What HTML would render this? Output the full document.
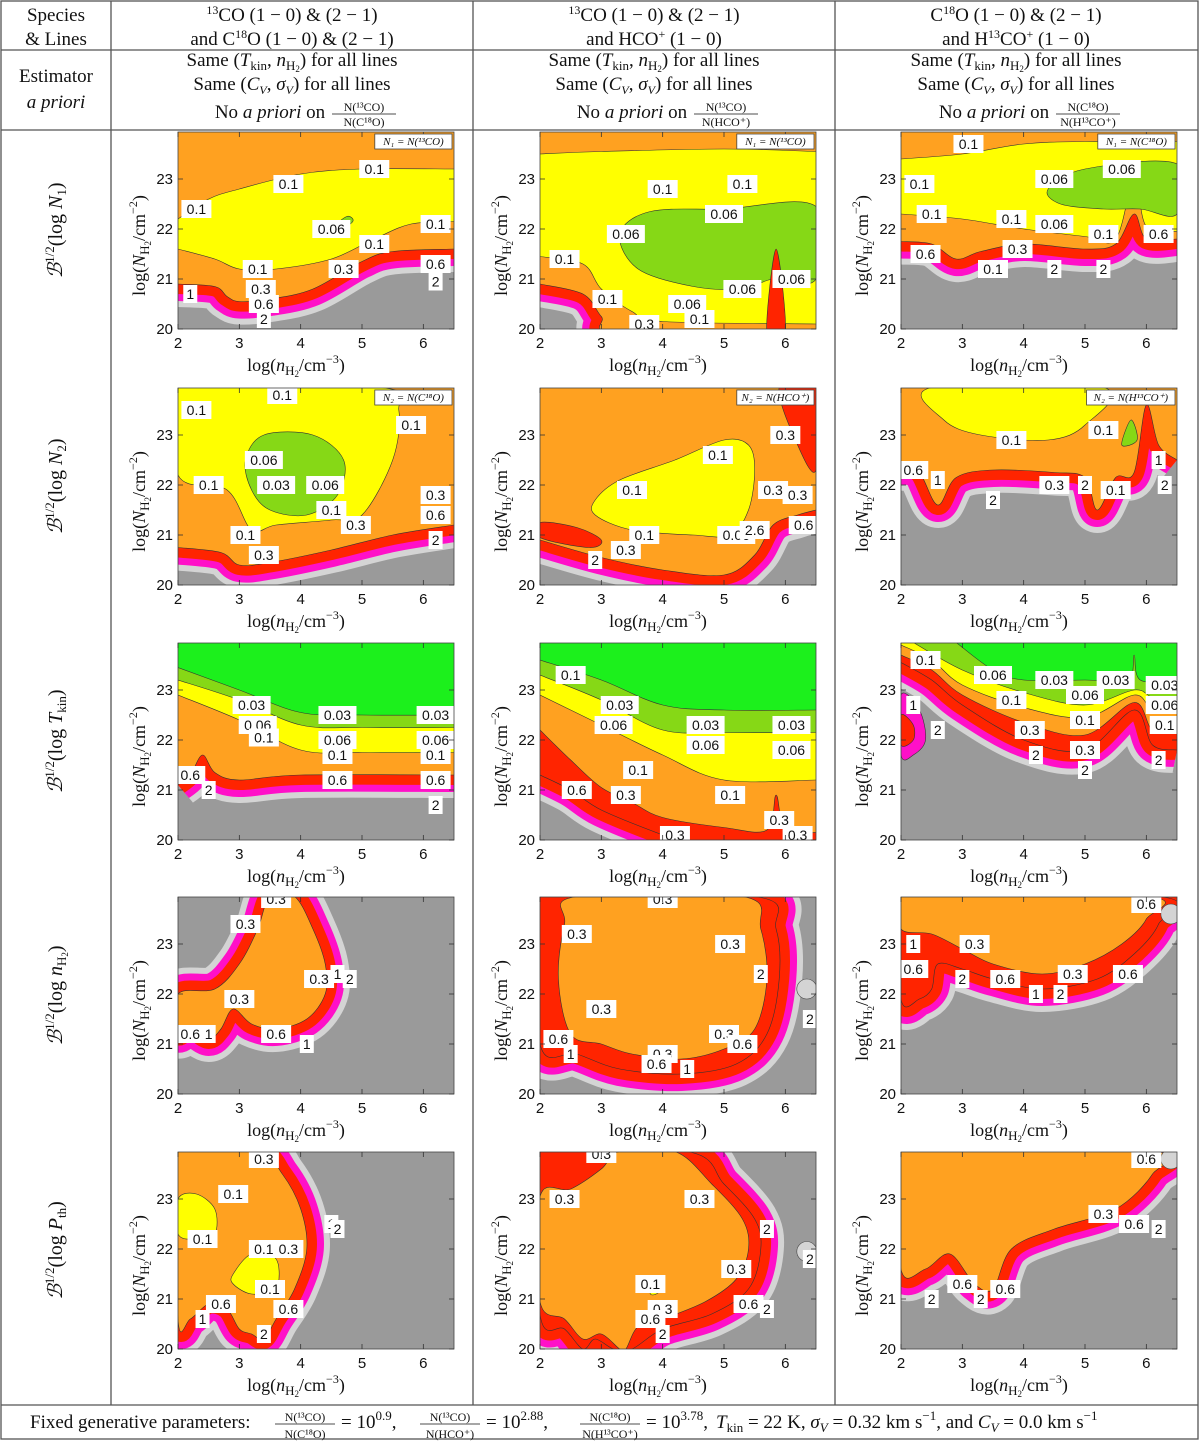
<!DOCTYPE html>
<html><head><meta charset="utf-8"><style>
body{margin:0;background:#fff}
svg text{font-family:"Liberation Serif",serif;fill:#111}
.tk{font-family:"Liberation Sans",sans-serif;font-size:15px}
.cl{font-family:"Liberation Sans",sans-serif;font-size:14px}
</style></head><body>
<svg id="fig" width="1200" height="1442" viewBox="0 0 1200 1442" xmlns="http://www.w3.org/2000/svg">
<g id="table" stroke="#555" stroke-width="1.3" fill="none">
<rect x="1" y="1" width="1197" height="1438"/>
<line x1="1" y1="50" x2="1198" y2="50"/><line x1="1" y1="130" x2="1198" y2="130"/>
<line x1="1" y1="1405" x2="1198" y2="1405"/>
<line x1="111" y1="1" x2="111" y2="1405"/><line x1="473" y1="1" x2="473" y2="1405"/><line x1="835" y1="1" x2="835" y2="1405"/>
</g>
<g font-size="19" text-anchor="middle">
<text x="56" y="21">Species</text><text x="56" y="45">&amp; Lines</text>
<text x="292" y="21"><tspan font-size="12" dy="-7">13</tspan><tspan dy="7">CO (1 − 0) &amp; (2 − 1)</tspan></text>
<text x="292" y="45">and C<tspan font-size="12" dy="-7">18</tspan><tspan dy="7">O (1 − 0) &amp; (2 − 1)</tspan></text>
<text x="654" y="21"><tspan font-size="12" dy="-7">13</tspan><tspan dy="7">CO (1 − 0) &amp; (2 − 1)</tspan></text>
<text x="654" y="45">and HCO<tspan font-size="12" dy="-7">+</tspan><tspan dy="7"> (1 − 0)</tspan></text>
<text x="1016" y="21">C<tspan font-size="12" dy="-7">18</tspan><tspan dy="7">O (1 − 0) &amp; (2 − 1)</tspan></text>
<text x="1016" y="45">and H<tspan font-size="12" dy="-7">13</tspan><tspan dy="7">CO</tspan><tspan font-size="12" dy="-7">+</tspan><tspan dy="7"> (1 − 0)</tspan></text>
</g>
<g font-size="19" text-anchor="middle">
<text x="56" y="82">Estimator</text><text x="56" y="108" font-style="italic">a priori</text>
</g>
<g id="est"></g>
<g id="rowlabels"></g>
<g id="plots"></g>
<g id="footer"></g>
</svg>
<script>
// ---- panel data: contour regions in (log n, log N) data coordinates ----
const xTicks=[2,3,4,5,6];
const yTicks=[20,21,22,23];
const legendTexts=[["N₁ = N(¹³CO)","N₁ = N(¹³CO)","N₁ = N(C¹⁸O)"],["N₂ = N(C¹⁸O)","N₂ = N(HCO⁺)","N₂ = N(H¹³CO⁺)"]];
const C={g:"#9a9a9a",lg:"#d4d4d4",m:"#ff10c8",r:"#ff2400",o:"#ffa120",y:"#ffff00",lgr:"#86d816",gr:"#1cf01c"};
const P11=[
 {t:"ha",c:"o",p:[[2,20.9],[2.6,20.85],[2.8,20.65],[3,20.55],[3.5,20.6],[4.2,20.8],[5,21.35],[5.5,21.55],[6.5,21.6]]},
 {t:"a",c:"y",p:[[2,21.6],[2.6,21.4],[3,21.2],[3.6,21.2],[4.5,21.4],[5.2,21.8],[5.8,22.1],[6.5,22.15]]},
 {t:"a",c:"o",p:[[2,22.2],[2.5,22.6],[3,22.8],[4,23.1],[5,23.2],[6.5,23.2]]},
 {t:"b",c:"lgr",p:[[4.5,22.0],[4.75,22.25],[4.85,22.15],[4.6,21.95]]}];
const P21=[
 {t:"ha",c:"o",p:[[2,20.9],[2.7,20.7],[3,20.25],[3.3,19.9],[6.5,19.9]]},
 {t:"a",c:"y",p:[[2,21.45],[2.7,21.3],[3,20.8],[3.5,20.35],[4,20.15],[6.5,20.1]]},
 {t:"a",c:"o",p:[[2,23.5],[3,23.55],[5,23.6],[6.5,23.55]]},
 {t:"b",c:"lgr",p:[[3.3,21.9],[3.8,22.35],[5,22.4],[6.5,22.45],[6.5,21.0],[5.8,21.0],[5.3,20.8],[4.5,20.85],[3.6,21.2]]},
 {t:"b",c:"r",p:[[5.7,19.9],[5.85,21.6],[6.0,19.9]]}];
const P31=[
 {t:"ha",c:"o",p:[[2,21.75],[2.5,21.7],[2.9,21.4],[3.3,21.55],[4,21.7],[5,21.6],[5.5,21.7],[5.8,22.3],[6.0,21.8],[6.5,21.8]]},
 {t:"a",c:"y",p:[[2,22.3],[3,22.2],[4,22.0],[5,21.85],[5.5,21.8],[5.8,23.0],[6.0,22.05],[6.5,21.95]]},
 {t:"a",c:"o",p:[[2,23.4],[3,23.5],[4,23.7],[5,23.75],[6.5,23.75]]},
 {t:"b",c:"lgr",p:[[4.4,22.8],[5,23.2],[6.5,23.3],[6.5,22.3],[5.9,22.4],[5.3,22.4],[4.6,22.5]]}];
const P12=[
 {t:"ha",c:"o",p:[[2,20.75],[2.7,20.65],[3,20.4],[3.5,20.45],[4.5,20.7],[5.5,21.0],[6.5,21.2]]},
 {t:"b",c:"y",p:[[2,22.2],[2.8,21.9],[3.2,21.1],[3.6,21.2],[4.5,21.3],[5,21.4],[5.5,22.5],[5.6,23.5],[5.3,23.95],[2,23.95]]},
 {t:"b",c:"lgr",p:[[3.1,22.5],[3.4,23.0],[4.2,23.0],[4.7,22.5],[4.6,21.8],[4.1,21.4],[3.5,21.5],[3.2,21.9]]}];
const P22=[
 {t:"ha",c:"o",p:[[2,20.9],[3,20.55],[4,20.3],[5,20.2],[5.5,20.6],[5.8,21.2],[6.2,21.4],[6.5,21.5]]},
 {t:"b",c:"r",p:[[2,21.25],[2.6,21.15],[3.0,20.9],[2.8,20.75],[2,20.95]]},
 {t:"b",c:"y",p:[[2.9,21.7],[3.3,22.1],[4.2,22.5],[5,22.9],[5.4,22.8],[5.5,22.3],[5.4,21.5],[5.1,21.0],[4.5,21.0],[3.5,21.1],[2.9,21.4]]},
 {t:"b",c:"r",p:[[5.9,23.95],[6.5,23.95],[6.5,22.3],[6.2,22.8]]}];
const P32=[
 {t:"ha",c:"o",p:[[2,22.35],[2.3,22.25],[2.6,21.6],[2.9,22.15],[3.5,22.3],[4.5,22.25],[5,22.15],[5.2,21.5],[5.5,22.15],[5.8,22.25],[6.0,23.6],[6.2,22.8],[6.5,22.5]]},
 {t:"b",c:"y",p:[[2.5,23.95],[2.7,23.3],[3.3,23.0],[4.4,22.9],[5.0,23.2],[5.3,23.95]]},
 {t:"b",c:"lgr",p:[[5.6,22.8],[5.75,23.3],[5.85,22.9]]}];
const P13=[
 {t:"ha",c:"o",p:[[2,21.1],[2.2,21.3],[2.4,21.7],[2.6,21.35],[3,21.2],[4,21.3],[6.5,21.3]]},
 {t:"a",c:"y",p:[[2,22.9],[3,22.4],[4,21.8],[5,21.75],[6.5,21.75]]},
 {t:"a",c:"lgr",p:[[2,23.2],[3,22.8],[4,22.3],[5,22.25],[6.5,22.25]]},
 {t:"a",c:"gr",p:[[2,23.45],[3,23.0],[4,22.55],[5,22.5],[6.5,22.5]]}];
const P23=[
 {t:"ha",c:"r",p:[[2,21.3],[2.5,21.0],[3,20.6],[4,20.1],[4.5,19.9],[6.5,19.9]]},
 {t:"a",c:"o",p:[[2,22.2],[2.5,21.6],[3,21.05],[3.5,20.75],[4,20.45],[5,20.25],[5.7,20.2],[5.85,20.9],[6,20.2],[6.5,20.15]]},
 {t:"a",c:"y",p:[[2,22.9],[3,22.3],[4,21.7],[5,21.2],[6.5,21.2]]},
 {t:"a",c:"lgr",p:[[2,23.3],[3,22.8],[4,22.2],[5,22.15],[6.5,22.15]]},
 {t:"a",c:"gr",p:[[2,23.6],[3,23.2],[4,22.7],[5,22.6],[6.5,22.6]]}];
const P33=[
 {t:"ha",c:"r",p:[[2,23.55],[2.5,23.2],[3,22.7],[4,22.0],[5,21.8],[5.8,22.6],[6.1,21.9],[6.5,21.8]]},
 {t:"b",c:"m",p:[[2,22.9],[2.3,22.6],[2.4,22.0],[2.2,21.7],[2,21.7]]},
 {t:"b",c:"r",p:[[2,22.5],[2.2,22.3],[2.2,22.0],[2,21.9]]},
 {t:"a",c:"o",p:[[2,23.7],[2.5,23.4],[3,22.9],[4,22.35],[5,22.1],[5.8,22.75],[6.1,22.2],[6.5,22.2]]},
 {t:"a",c:"y",p:[[2,23.9],[2.5,23.6],[3,23.1],[4,22.65],[5,22.45],[5.8,22.9],[6.1,22.6],[6.5,22.55]]},
 {t:"a",c:"lgr",p:[[2.2,23.95],[3,23.4],[4,22.95],[5,22.7],[5.8,23.0],[6.1,22.85],[6.5,22.75]]},
 {t:"a",c:"gr",p:[[2.9,23.95],[3.5,23.4],[4,23.2],[5,23.2],[5.7,23.2],[5.8,23.7],[5.9,23.2],[6.5,23.15]]}];
const P14=[
 {t:"h",c:"o",p:[[2,22.0],[2.6,22.1],[3.0,22.6],[3.3,23.3],[3.5,23.95],[3.9,23.95],[4.2,23.3],[4.4,22.6],[4.4,22.0],[4.1,21.5],[3.6,21.3],[3.2,21.4],[2.9,21.7],[2.7,21.3],[2.5,21.1],[2.2,21.3],[2,21.2]]}];
const P24=[
 {t:"h",c:"r",p:[[2,23.95],[5.5,23.95],[5.85,23.3],[5.9,22.3],[5.7,21.2],[5.2,20.6],[4.3,20.4],[3.3,20.5],[2.6,20.8],[2,21.0]]},
 {t:"b",c:"o",p:[[2.6,23.95],[5.3,23.95],[5.6,23.3],[5.7,22.3],[5.5,21.3],[5.0,20.9],[4.3,20.7],[3.5,20.8],[3,21.0],[2.5,21.2],[2.3,22.3],[2.4,23.4]]},
 {t:"c",c:"g",p:[[6.35,22.1]]}];
const P34=[
 {t:"h",c:"r",p:[[2,23.95],[6.2,23.95],[6.2,23.4],[5.8,22.8],[5.2,22.3],[4.3,22.1],[3.5,22.3],[3.0,22.5],[2.6,22.6],[2.5,22.1],[2.3,21.9],[2,21.9]]},
 {t:"b",c:"o",p:[[2,23.95],[6.0,23.95],[6.0,23.5],[5.6,23.0],[5.0,22.6],[4.3,22.4],[3.5,22.6],[3.0,22.9],[2.5,23.2],[2.0,23.3]]},
 {t:"c",c:"g",p:[[6.4,23.6]]}];
const P15=[
 {t:"h",c:"o",p:[[2,23.95],[3.3,23.95],[3.7,23.5],[4.0,22.8],[4.1,22.0],[3.9,21.2],[3.6,20.6],[3.4,20.2],[3.2,20.3],[3.0,20.4],[2.8,20.8],[2.5,20.9],[2.2,20.6],[2,20.6]]},
 {t:"b",c:"y",p:[[2,23.0],[2.3,23.1],[2.6,22.8],[2.6,22.3],[2.3,22.2],[2,22.3]]},
 {t:"b",c:"y",p:[[2.9,21.5],[3.2,21.9],[3.6,21.8],[3.6,21.2],[3.2,21.1],[2.9,21.3]]}];
const P25=[
 {t:"h",c:"r",p:[[2,23.95],[4.4,23.95],[5.0,23.3],[5.5,22.6],[5.6,22.0],[5.4,21.2],[4.8,20.7],[4.0,20.4],[3.5,20.0],[3.2,20.0],[2.9,20.2],[2.7,20.0],[2.4,20.4],[2,20.7]]},
 {t:"b",c:"o",p:[[2,23.05],[2.5,23.2],[3.0,23.6],[3.3,23.95],[4.2,23.95],[4.8,23.3],[5.3,22.6],[5.4,22.0],[5.2,21.4],[4.7,20.95],[4.0,20.6],[3.6,20.45],[3.4,20.0],[3.3,20.0],[3.0,20.3],[2.7,20.2],[2.4,20.6],[2,20.95]]},
 {t:"b",c:"y",p:[[3.8,21.45],[3.95,21.35],[3.95,21.15],[3.8,21.1]]},
 {t:"c",c:"g",p:[[6.35,21.95]]}];
const P35=[
 {t:"h",c:"o",p:[[2,23.95],[6.1,23.95],[6.1,23.5],[5.5,22.8],[4.5,22.4],[3.8,22.0],[3.5,21.2],[3.2,21.3],[2.8,21.9],[2.4,21.6],[2,21.6]]},
 {t:"c",c:"g",p:[[6.4,23.8]]}];
const panels=[[P11,P21,P31],[P12,P22,P32],[P13,P23,P33],[P14,P24,P34],[P15,P25,P35]];
// contour labels [log n, log N, text]
const L11=[[2.3,22.4,"0.1"],[3.8,22.9,"0.1"],[5.2,23.2,"0.1"],[4.5,22.0,"0.06"],[5.2,21.7,"0.1"],[3.3,21.2,"0.1"],[6.2,22.1,"0.1"],[2.2,20.7,"1"],[3.35,20.8,"0.3"],[3.4,20.5,"0.6"],[3.4,20.2,"2"],[4.7,21.2,"0.3"],[6.2,21.3,"0.6"],[6.2,20.95,"2"]];
const L21=[[4,22.8,"0.1"],[5.3,22.9,"0.1"],[3.4,21.9,"0.06"],[5.0,22.3,"0.06"],[2.4,21.4,"0.1"],[3.1,20.6,"0.1"],[4.4,20.5,"0.06"],[4.6,20.2,"0.1"],[5.3,20.8,"0.06"],[3.7,20.1,"0.3"],[6.1,21.0,"0.06"]];
const L31=[[3.1,23.7,"0.1"],[2.3,22.9,"0.1"],[4.5,23.0,"0.06"],[5.6,23.2,"0.06"],[2.5,22.3,"0.1"],[4.5,22.1,"0.06"],[3.8,22.2,"0.1"],[5.3,21.9,"0.1"],[3.9,21.6,"0.3"],[3.5,21.2,"0.1"],[4.5,21.2,"2"],[5.3,21.2,"2"],[2.4,21.5,"0.6"],[6.2,21.9,"0.6"]];
const L12=[[2.3,23.5,"0.1"],[3.7,23.8,"0.1"],[5.8,23.2,"0.1"],[3.4,22.5,"0.06"],[3.6,22.0,"0.03"],[4.4,22.0,"0.06"],[2.5,22.0,"0.1"],[4.5,21.5,"0.1"],[6.2,21.8,"0.3"],[6.2,21.4,"0.6"],[6.2,20.9,"2"],[3.1,21.0,"0.1"],[4.9,21.2,"0.3"],[3.4,20.6,"0.3"]];
const L22=[[4.9,22.6,"0.1"],[3.5,21.9,"0.1"],[3.7,21.0,"0.1"],[3.4,20.7,"0.3"],[2.9,20.5,"2"],[5.2,21.0,"0.06"],[5.5,21.1,"2.6"],[5.8,21.9,"0.3"],[6.2,21.8,"0.3"],[6.3,21.2,"0.6"],[6.0,23.0,"0.3"]];
const L32=[[3.8,22.9,"0.1"],[5.3,23.1,"0.1"],[2.2,22.3,"0.6"],[2.6,22.1,"1"],[3.5,21.7,"2"],[4.5,22.0,"0.3"],[5,22.0,"2"],[5.5,21.9,"0.1"],[6.2,22.5,"1"],[6.3,22.0,"2"]];
const L13=[[3.2,22.7,"0.03"],[3.3,22.3,"0.06"],[3.4,22.05,"0.1"],[4.6,22.5,"0.03"],[6.2,22.5,"0.03"],[4.6,22.0,"0.06"],[6.2,22.0,"0.06"],[4.6,21.7,"0.1"],[6.2,21.7,"0.1"],[4.6,21.2,"0.6"],[6.2,21.2,"0.6"],[2.2,21.3,"0.6"],[2.5,21.0,"2"],[6.2,20.7,"2"]];
const L23=[[2.5,23.3,"0.1"],[3.3,22.7,"0.03"],[3.2,22.3,"0.06"],[4.7,22.3,"0.03"],[6.1,22.3,"0.03"],[4.7,21.9,"0.06"],[6.1,21.8,"0.06"],[3.6,21.4,"0.1"],[5.1,20.9,"0.1"],[2.6,21.0,"0.6"],[3.4,20.9,"0.3"],[4.2,20.1,"0.3"],[6.2,20.1,"0.3"],[5.9,20.4,"0.3"]];
const L33=[[2.4,23.6,"0.1"],[3.5,23.3,"0.06"],[4.5,23.2,"0.03"],[5.5,23.2,"0.03"],[6.3,23.1,"0.03"],[6.3,22.7,"0.06"],[5,22.9,"0.06"],[3.8,22.8,"0.1"],[5.0,22.4,"0.1"],[6.3,22.3,"0.1"],[4.1,22.2,"0.3"],[4.2,21.7,"2"],[5,21.8,"0.3"],[5,21.4,"2"],[2.2,22.7,"1"],[2.6,22.2,"2"],[6.2,21.6,"2"]];
const L14=[[3.1,23.4,"0.3"],[3.6,23.9,"0.3"],[4.3,22.3,"0.3"],[4.6,22.4,"1"],[4.8,22.3,"2"],[3.0,21.9,"0.3"],[3.6,21.2,"0.6"],[4.1,21.0,"1"],[2.2,21.2,"0.6"],[2.5,21.2,"1"]];
const L24=[[4.0,23.9,"0.3"],[2.6,23.2,"0.3"],[3.0,21.7,"0.3"],[5.1,23.0,"0.3"],[5.6,22.4,"2"],[5.0,21.2,"0.3"],[5.3,21.0,"0.6"],[2.3,21.1,"0.6"],[2.5,20.8,"1"],[4.0,20.8,"0.3"],[3.9,20.6,"0.6"],[4.4,20.5,"1"],[6.4,21.5,"2"]];
const L34=[[3.2,23.0,"0.3"],[2.2,23.0,"1"],[2.2,22.5,"0.6"],[3.7,22.3,"0.6"],[4.2,22.0,"1"],[4.6,22.0,"2"],[4.8,22.4,"0.3"],[5.7,22.4,"0.6"],[6.0,23.8,"0.6"],[3.0,22.3,"2"]];
const L15=[[3.4,23.8,"0.3"],[2.9,23.1,"0.1"],[2.4,22.2,"0.1"],[3.4,22.0,"0.1"],[4.5,22.5,"1"],[4.6,22.4,"2"],[3.8,22.0,"0.3"],[3.5,21.2,"0.1"],[2.7,20.9,"0.6"],[2.4,20.6,"1"],[3.8,20.8,"0.6"],[3.4,20.3,"2"]];
const L25=[[3.0,23.9,"0.3"],[2.4,23.0,"0.3"],[4.6,23.0,"0.3"],[5.7,22.4,"2"],[5.2,21.6,"0.3"],[5.4,20.9,"0.6"],[5.7,20.8,"2"],[4.0,20.8,"0.3"],[3.8,20.6,"0.6"],[4.0,20.3,"2"],[3.8,21.3,"0.1"],[6.4,21.8,"2"]];
const L35=[[5.3,22.7,"0.3"],[5.8,22.5,"0.6"],[6.2,22.4,"2"],[6.0,23.8,"0.6"],[3.0,21.3,"0.6"],[2.5,21.0,"2"],[3.7,21.2,"0.6"],[3.3,21.0,"2"]];
const labelSets=[[L11,L21,L31],[L12,L22,L32],[L13,L23,L33],[L14,L24,L34],[L15,L25,L35]];
const estFracs=[["N(¹³CO)","N(C¹⁸O)"],["N(¹³CO)","N(HCO⁺)"],["N(C¹⁸O)","N(H¹³CO⁺)"]];

const NS="http://www.w3.org/2000/svg";
const colX=[178,540,901], AW=276, rowB=[329,585,840,1094,1349], AH=197, XMIN=2,XMAX=6.5,YMIN=20,YMAX=23.94;
function el(tag,attrs,parent){const e=document.createElementNS(NS,tag);for(const k in attrs)e.setAttribute(k,attrs[k]);if(parent)parent.appendChild(e);return e;}
function txt(parent,x,y,s,size,anchor){const t=el("text",{x:x,y:y,"font-size":size,"text-anchor":anchor||"middle"},parent);t.textContent=s;return t;}
const H2='<tspan font-size="13" dy="4">H</tspan><tspan font-size="9" dy="2">2</tspan><tspan dy="-6">';
function smooth(p,closed){
  const n=p.length;const f=v=>v.toFixed(1);
  let d="M"+f(p[0][0])+","+f(p[0][1]);
  const last=closed?n:n-1;
  for(let i=0;i<last;i++){
    const p0=p[closed?(i-1+n)%n:Math.max(i-1,0)],p1=p[i],p2=p[(i+1)%n],p3=p[closed?(i+2)%n:Math.min(i+2,n-1)];
    const k=6;
    d+=`C${f(p1[0]+(p2[0]-p0[0])/k)},${f(p1[1]+(p2[1]-p0[1])/k)} ${f(p2[0]-(p3[0]-p1[0])/k)},${f(p2[1]-(p3[1]-p1[1])/k)} ${f(p2[0])},${f(p2[1])}`;
  }
  return d;
}

const est=document.getElementById("est");
for(let c=0;c<3;c++){
  const cx=292+c*362;
  const t1=el("text",{x:cx,y:66,"font-size":19,"text-anchor":"middle"},est);
  t1.innerHTML='Same (<tspan font-style="italic">T</tspan><tspan font-size="13" dy="4">kin</tspan><tspan dy="-4">, </tspan><tspan font-style="italic">n</tspan>'+H2+') for all lines</tspan>';
  const t2=el("text",{x:cx,y:90,"font-size":19,"text-anchor":"middle"},est);
  t2.innerHTML='Same (<tspan font-style="italic">C</tspan><tspan font-size="12" dy="4" font-style="italic">V</tspan><tspan dy="-4">, </tspan><tspan font-style="italic">σ</tspan><tspan font-size="12" dy="4" font-style="italic">V</tspan><tspan dy="-4">) for all lines</tspan>';
  const t3=el("text",{x:cx-22,y:118,"font-size":19,"text-anchor":"middle"},est);
  t3.innerHTML='No <tspan font-style="italic">a priori</tspan> on';
  const fx=cx+72;
  txt(est,fx,111,estFracs[c][0],12);
  el("line",{x1:fx-32,y1:114,x2:fx+32,y2:114,stroke:"#111","stroke-width":0.8},est);
  txt(est,fx,126,estFracs[c][1],12);
}

const rl=document.getElementById("rowlabels");
const rowSub=[["N","1"],["N","2"],["T","kin"],["n","H2"],["P","th"]];
for(let r=0;r<5;r++){
  const cy=rowB[r]-AH/2;
  const t=el("text",{x:0,y:0,"font-size":20,"text-anchor":"middle",transform:`translate(62,${cy}) rotate(-90)`},rl);
  
  
  const sub=rowSub[r][1]==="H2"?'<tspan font-size="13" dy="4">H</tspan><tspan font-size="9" dy="2">2</tspan><tspan dy="-6">)</tspan>':`<tspan font-size="13" dy="4">${rowSub[r][1]}</tspan><tspan dy="-4">)</tspan>`;
  t.innerHTML=`<tspan font-style="italic">ℬ</tspan><tspan font-size="13" dy="-8">1/2</tspan><tspan dy="8">(log </tspan><tspan font-style="italic">${rowSub[r][0]}</tspan>`+sub;
}

const plots=document.getElementById("plots");
const halo=[[C.lg,46],[C.m,34],[C.r,20]];
for(let r=0;r<5;r++)for(let c=0;c<3;c++){
  const x0=colX[c], yb=rowB[r], yt=yb-AH;
  const X=v=>x0+(v-XMIN)/(XMAX-XMIN)*AW;
  const Y=v=>yb-(v-YMIN)/(YMAX-YMIN)*AH;
  const g=el("g",{},plots);
  
  
  const cid=`clip${r}${c}`;
  const cp=el("clipPath",{id:cid},g);el("rect",{x:x0,y:yt,width:AW,height:AH},cp);
  const inner=el("g",{"clip-path":`url(#${cid})`},g);
  el("rect",{x:x0,y:yt,width:AW,height:AH,fill:C.g},inner);
  for(const L of panels[r][c]){
    const pts=L.p.map(q=>[X(q[0]),Y(q[1])]);
    if(L.t==="c"){
      const e1=el("circle",{cx:pts[0][0],cy:pts[0][1],r:10,fill:C.lg,stroke:"#444","stroke-width":0.6},inner);
      
      
      continue;
    }
    let closed,line;
    if(L.t==="a"||L.t==="ha"){
      line=smooth(pts,false);
      const f=pts[0],l=pts[pts.length-1];
      closed=line+`L${l[0]+30},${l[1]}L${l[0]+30},${yt-30}L${f[0]-30},${yt-30}L${f[0]-30},${f[1]}Z`;
    } else {closed=smooth(pts,true)+"Z";line=closed;}
    if(L.t==="ha"||L.t==="h"){
      for(const [col,w] of halo){
        const hp=el("path",{d:line,fill:"none",stroke:col,"stroke-width":w,"stroke-linejoin":"round"},inner);
        
        
      }
    }
    const fp=el("path",{d:closed,fill:C[L.c],stroke:"#333","stroke-width":0.6},inner);
    
    
  }
  for(const lb of labelSets[r][c]){
    const lx=X(lb[0]), ly=Y(lb[1]);
    const w=lb[2].length*8+6;
    const lgp=el("g",{},inner);
    
    
    el("rect",{x:lx-w/2,y:ly-9,width:w,height:18,fill:"#fff"},lgp);
    const t=txt(lgp,lx,ly+5,lb[2],14);t.setAttribute("class","cl");
  }
  el("rect",{x:x0,y:yt,width:AW,height:AH,fill:"none",stroke:"#444","stroke-width":0.8},g);
  for(const v of xTicks){
    el("line",{x1:X(v),y1:yb,x2:X(v),y2:yb-5,stroke:"#333","stroke-width":0.8},g);
    el("line",{x1:X(v),y1:yt,x2:X(v),y2:yt+5,stroke:"#333","stroke-width":0.8},g);
    const t=txt(g,X(v),yb+19,String(v),15);t.setAttribute("class","tk");
    
    
  }
  for(const v of yTicks){
    el("line",{x1:x0,y1:Y(v),x2:x0+5,y2:Y(v),stroke:"#333","stroke-width":0.8},g);
    el("line",{x1:x0+AW,y1:Y(v),x2:x0+AW-5,y2:Y(v),stroke:"#333","stroke-width":0.8},g);
    const t=txt(g,x0-5,Y(v)+5,String(v),15,"end");t.setAttribute("class","tk");
    
    
  }
  const xl=el("text",{x:x0+AW/2-20,y:yb+42,"font-size":18,"text-anchor":"middle"},g);
  
  
  xl.innerHTML='log(<tspan font-style="italic">n</tspan>'+H2+'/cm</tspan><tspan font-size="12" dy="-8">−3</tspan><tspan dy="8">)</tspan>';
  const yl=el("text",{x:0,y:0,"font-size":18,"text-anchor":"middle",transform:`translate(${x0-33},${yb-AH/2+15}) rotate(-90)`},g);
  
  
  yl.innerHTML='log(<tspan font-style="italic">N</tspan>'+H2+'/cm</tspan><tspan font-size="12" dy="-8">−2</tspan><tspan dy="8">)</tspan>';
  if(r<2){
    const s=legendTexts[r][c];
    const w=s.length*5.6+10;
    const lg=el("g",{},g);
    
    
    el("rect",{x:x0+AW-w-2,y:yt+2,width:w,height:15,fill:"#fff",stroke:"#444","stroke-width":0.8},lg);
    const t=txt(lg,x0+AW-w/2-2,yt+13,s,11);t.setAttribute("font-style","italic");
  }
}

const ft=document.getElementById("footer");
const fy=1428;
txt(ft,30,fy,"Fixed generative parameters:",19,"start");
const frs=[[275,"N(¹³CO)","N(C¹⁸O)","= 10","0.9",","],[420,"N(¹³CO)","N(HCO⁺)","= 10","2.88",","],[580,"N(C¹⁸O)","N(H¹³CO⁺)","= 10","3.78",","]];
for(const f of frs){
  const fx=f[0]+30;
  txt(ft,fx,fy-7,f[1],12);el("line",{x1:fx-30,y1:fy-4,x2:fx+30,y2:fy-4,stroke:"#111","stroke-width":0.8},ft);txt(ft,fx,fy+10,f[2],12);
  const t=el("text",{x:fx+36,y:fy,"font-size":19},ft);
  t.innerHTML=`${f[3]}<tspan font-size="13" dy="-8">${f[4]}</tspan><tspan dy="8">${f[5]}</tspan>`;
}
const tl=el("text",{x:716,y:fy,"font-size":19},ft);
tl.innerHTML='<tspan font-style="italic">T</tspan><tspan font-size="13" dy="4">kin</tspan><tspan dy="-4"> = 22 K, </tspan><tspan font-style="italic">σ</tspan><tspan font-size="13" dy="4" font-style="italic">V</tspan><tspan dy="-4"> = 0.32 km s</tspan><tspan font-size="13" dy="-8">−1</tspan><tspan dy="8">, and </tspan><tspan font-style="italic">C</tspan><tspan font-size="13" dy="4" font-style="italic">V</tspan><tspan dy="-4"> = 0.0 km s</tspan><tspan font-size="13" dy="-8">−1</tspan>';
</script>
</body></html>
